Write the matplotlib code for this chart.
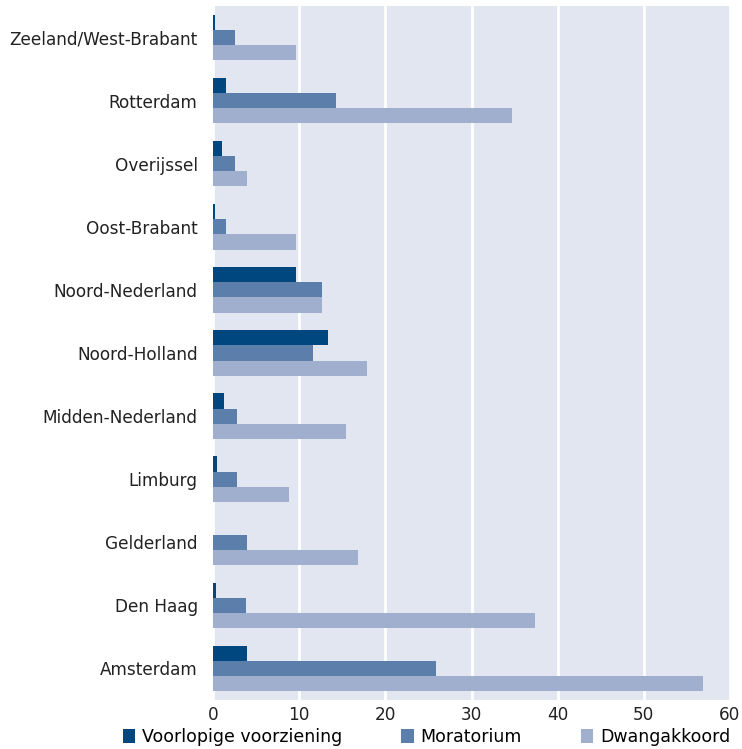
import numpy as np
import matplotlib.pyplot as plt
from matplotlib.patches import Patch

regios = ['Zeeland/West-Brabant', 'Rotterdam', 'Overijssel', 'Oost-Brabant',
          'Noord-Nederland', 'Noord-Holland', 'Midden-Nederland', 'Limburg',
          'Gelderland', 'Den Haag', 'Amsterdam']
voorlopig = [0.25, 1.5, 1.0, 0.25, 9.6, 13.3, 1.3, 0.5, 0.0, 0.3, 4.0]
moratorium = [2.5, 14.3, 2.5, 1.5, 12.6, 11.6, 2.8, 2.8, 4.0, 3.8, 25.9]
dwangakkoord = [9.6, 34.7, 4.0, 9.6, 12.6, 17.9, 15.4, 8.8, 16.8, 37.4, 56.9]

series = ['Voorlopige voorziening', 'Moratorium', 'Dwangakkoord']
kleuren = ['#00467f', '#5b7eab', '#a0afcd']

plt.rcParams['font.family'] = ['DejaVu Sans']

fig = plt.figure(figsize=(7.42, 7.49), dpi=100)
ax = fig.add_axes([213 / 742, 49 / 749, 517 / 742, 694 / 749])
ax.set_facecolor('#e1e6f0')

y = np.arange(len(regios))
h = 0.24
for i, (vals, kleur) in enumerate(zip([voorlopig, moratorium, dwangakkoord], kleuren)):
    ax.barh(y + (i - 1) * h, vals, height=h, color=kleur, edgecolor='none', zorder=3)

ax.set_xlim(0, 60)
ax.set_ylim(len(regios) - 0.5, -0.5)
ax.set_xticks(range(0, 61, 10))
ax.set_yticks(y)
ax.set_yticklabels(regios)
ax.grid(axis='x', color='white', linewidth=2, zorder=1)
ax.set_axisbelow(True)
for s in ax.spines.values():
    s.set_visible(False)
ax.tick_params(length=0, labelsize=12.2, colors='#222222')
ax.tick_params(axis='y', pad=11)
ax.tick_params(axis='x', pad=4)

handles = [Patch(facecolor=k, edgecolor='none') for k in kleuren]
fig.legend(handles, series, loc='center', bbox_to_anchor=(0.575, 1 - 737 / 749), ncol=3,
           frameon=False, fontsize=12.5, handlelength=0.7, handleheight=0.9,
           handletextpad=0.4, columnspacing=3.4, borderpad=0, borderaxespad=0)

fig.savefig('out.png', dpi=100)
